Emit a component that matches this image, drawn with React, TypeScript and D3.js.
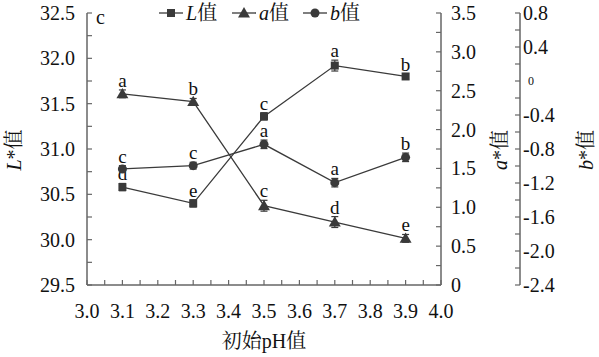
import React from "react";
import * as d3 from "d3";

const phValues = [3.1, 3.3, 3.5, 3.7, 3.9];
const lValues = [30.58, 30.4, 31.36, 31.92, 31.8];
const lErrors = [0.04, 0.04, 0.04, 0.06, 0.03];
const lLetters = ["d", "e", "c", "a", "b"];
const aValues = [2.46, 2.36, 1.02, 0.81, 0.6];
const aErrors = [0.05, 0.04, 0.07, 0.07, 0.05];
const aLetters = ["a", "b", "c", "d", "e"];
const bValues = [-1.035, -0.996, -0.745, -1.196, -0.898];
const bErrors = [0.04, 0.04, 0.05, 0.05, 0.05];
const bLetters = ["c", "c", "a", "a", "b"];

const xTickLabels = ["3.0", "3.1", "3.2", "3.3", "3.4", "3.5", "3.6", "3.7", "3.8", "3.9", "4.0"];
const lTickLabels = ["29.5", "30.0", "30.5", "31.0", "31.5", "32.0", "32.5"];
const aTickLabels = ["0", "0.5", "1.0", "1.5", "2.0", "2.5", "3.0", "3.5"];
const bTickLabels = ["-2.4", "-2.0", "-1.6", "-1.2", "-0.8", "-0.4", "0", "0.4", "0.8"];

const FONT = "Liberation Serif, Times New Roman, Noto Serif CJK SC, Noto Sans CJK SC, serif";
const AXIS = "#666";
const MARK = "#3a3a3a";
const TXT = { fontFamily: FONT, fill: "#111" } as React.CSSProperties;

export default function App() {
  const left = 87, right = 441, top = 13, bottom = 285;
  const bAxisX = 520;
  const x = d3.scaleLinear().domain([3.0, 4.0]).range([left, right]);
  const yL = d3.scaleLinear().domain([29.5, 32.5]).range([bottom, top]);
  const yA = d3.scaleLinear().domain([0, 3.5]).range([bottom, top]);
  const yB = d3.scaleLinear().domain([-2.4, 0.8]).range([bottom, top]);

  const xMinor = d3.range(0, 21).map((i) => 3.0 + i * 0.05);
  const lMinor = d3.range(0, 13).map((i) => 29.5 + i * 0.25);
  const aMinor = d3.range(0, 15).map((i) => i * 0.25);
  const bMinor = d3.range(0, 17).map((i) => -2.4 + i * 0.2);

  const line = (ys: d3.ScaleLinear<number, number>, vals: number[]) =>
    d3.line<number>().x((_, i) => x(phValues[i])).y((v) => ys(v))(vals) || "";

  const sq = d3.symbol().type(d3.symbolSquare).size(64)() || "";
  const tri = d3.symbol().type(d3.symbolTriangle).size(62)() || "";

  const series = [
    { vals: lValues, errs: lErrors, letters: lLetters, ys: yL, kind: "sq" },
    { vals: aValues, errs: aErrors, letters: aLetters, ys: yA, kind: "tri" },
    { vals: bValues, errs: bErrors, letters: bLetters, ys: yB, kind: "circ" },
  ];

  const marker = (kind: string, cx: number, cy: number, key?: string) => {
    if (kind === "sq") return <path key={key} d={sq} transform={`translate(${cx},${cy})`} fill={MARK} />;
    if (kind === "tri") return <path key={key} d={tri} transform={`translate(${cx},${cy + 1})`} fill={MARK} />;
    return <circle key={key} cx={cx} cy={cy} r={4.5} fill={MARK} />;
  };

  const legendItems = [
    { kind: "sq", x0: 159, label: "L" },
    { kind: "tri", x0: 232, label: "a" },
    { kind: "circ", x0: 303, label: "b" },
  ];

  return (
    <svg width={599} height={357} style={{ position: "absolute", left: 0, top: 0, background: "#fff" }}>
      <rect x={0} y={0} width={599} height={357} fill="#fff" />
      {/* left axis */}
      <line x1={left} x2={left} y1={top} y2={bottom} stroke={AXIS} strokeWidth={1.5} />
      {lMinor.map((v, i) => (
        <line key={"lt" + i} x1={left} x2={left + 5} y1={yL(v)} y2={yL(v)} stroke={AXIS} strokeWidth={1.2} />
      ))}
      {lTickLabels.map((t) => (
        <text key={"ll" + t} x={left - 12} y={yL(+t)} dy="0.35em" textAnchor="end" fontSize={20} style={TXT}>{t}</text>
      ))}
      {/* bottom axis */}
      <line x1={left} x2={right} y1={bottom} y2={bottom} stroke={AXIS} strokeWidth={1.5} />
      {xMinor.map((v, i) => (
        <line key={"xt" + i} x1={x(v)} x2={x(v)} y1={bottom} y2={bottom - 5} stroke={AXIS} strokeWidth={1.2} />
      ))}
      {xTickLabels.map((t) => (
        <text key={"xl" + t} x={x(+t)} y={311} dy="0.35em" textAnchor="middle" fontSize={20} style={TXT}>{t}</text>
      ))}
      {/* a axis */}
      <line x1={right} x2={right} y1={top} y2={bottom} stroke={AXIS} strokeWidth={1.5} />
      {aMinor.map((v, i) => (
        <line key={"at" + i} x1={right} x2={right - 5} y1={yA(v)} y2={yA(v)} stroke={AXIS} strokeWidth={1.2} />
      ))}
      {aTickLabels.map((t) => (
        <text key={"al" + t} x={right + 10} y={yA(+t)} dy="0.35em" textAnchor="start" fontSize={20} style={TXT}>{t}</text>
      ))}
      {/* b axis */}
      <line x1={bAxisX} x2={bAxisX} y1={top} y2={bottom} stroke={AXIS} strokeWidth={1.5} />
      {bMinor.map((v, i) => (
        <line key={"bt" + i} x1={bAxisX} x2={bAxisX - 5} y1={yB(v)} y2={yB(v)} stroke={AXIS} strokeWidth={1.2} />
      ))}
      {bTickLabels.map((t) => (
        <text key={"bl" + t} x={bAxisX + (t === "0" ? 8 : 3)} y={yB(+t)} dy="0.35em" textAnchor="start" fontSize={t === "0" ? 12 : 20} style={TXT}>{t}</text>
      ))}
      {/* axis titles */}
      <text transform={`translate(14,150) rotate(-90)`} textAnchor="middle" dy="0.35em" fontSize={20} style={TXT}>
        <tspan fontStyle="italic">L</tspan><tspan>*值</tspan>
      </text>
      <text transform={`translate(500,150) rotate(-90)`} textAnchor="middle" dy="0.35em" fontSize={20} style={TXT}>
        <tspan fontStyle="italic">a</tspan><tspan>*值</tspan>
      </text>
      <text transform={`translate(586,150) rotate(-90)`} textAnchor="middle" dy="0.35em" fontSize={20} style={TXT}>
        <tspan fontStyle="italic">b</tspan><tspan>*值</tspan>
      </text>
      <text x={264} y={341} dy="0.35em" textAnchor="middle" fontSize={20} style={TXT}>初始pH值</text>
      <text x={96} y={17} dy="0.35em" fontSize={20} style={TXT}>c</text>
      {/* series */}
      {series.map((s, si) => (
        <g key={"s" + si}>
          <path d={line(s.ys, s.vals)} fill="none" stroke={MARK} strokeWidth={1.3} />
          {s.vals.map((v, i) => {
            const cx = x(phValues[i]);
            const y0 = s.ys(v - s.errs[i]);
            const y1 = s.ys(v + s.errs[i]);
            return (
              <g key={"p" + i}>
                <line x1={cx} x2={cx} y1={y0} y2={y1} stroke={MARK} strokeWidth={1.2} />
                <line x1={cx - 3.5} x2={cx + 3.5} y1={y0} y2={y0} stroke={MARK} strokeWidth={1.2} />
                <line x1={cx - 3.5} x2={cx + 3.5} y1={y1} y2={y1} stroke={MARK} strokeWidth={1.2} />
                {marker(s.kind, cx, s.ys(v))}
                <text x={cx} y={y1 - 3} textAnchor="middle" fontSize={19} style={TXT}>{s.letters[i]}</text>
              </g>
            );
          })}
        </g>
      ))}
      {/* legend */}
      {legendItems.map((it) => (
        <g key={"lg" + it.label}>
          <line x1={it.x0} x2={it.x0 + 24} y1={13} y2={13} stroke={MARK} strokeWidth={1.3} />
          {marker(it.kind, it.x0 + 12, 13)}
          <text x={it.x0 + 27} y={13} dy="0.35em" fontSize={20} style={TXT}>
            <tspan fontStyle="italic">{it.label}</tspan><tspan>值</tspan>
          </text>
        </g>
      ))}
    </svg>
  );
}
